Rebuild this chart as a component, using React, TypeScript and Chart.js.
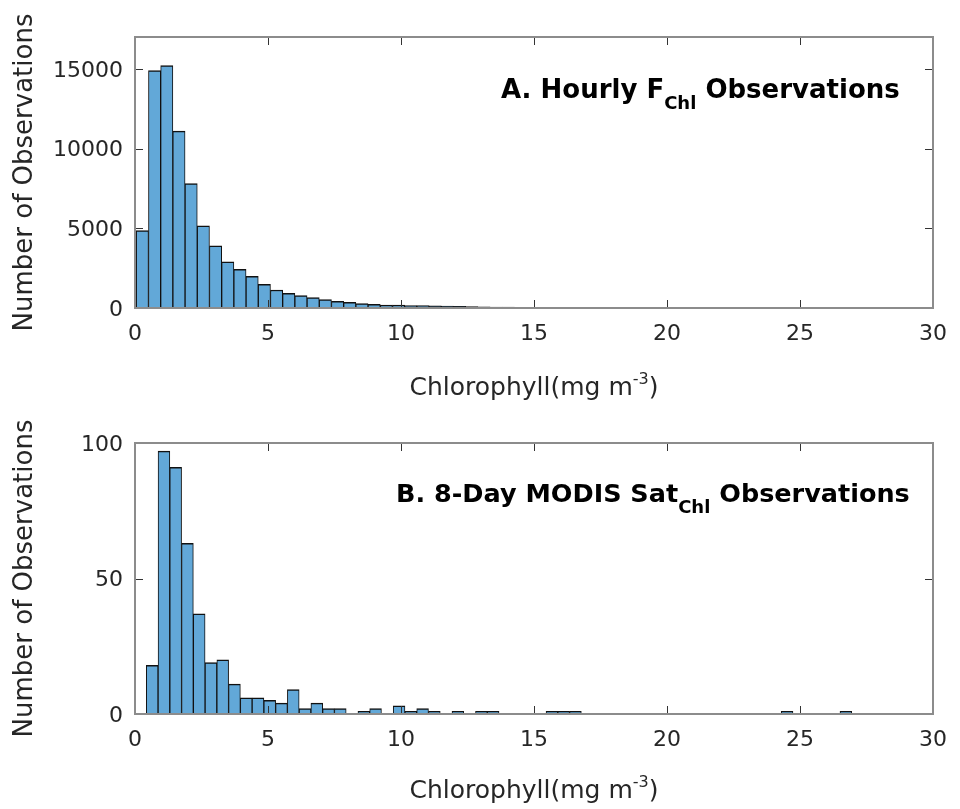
import React, { useEffect, useRef } from "react";
import { Chart, registerables } from "chart.js";

Chart.register(...registerables);

// ---------- data ----------
const X_TICKS = [0, 5, 10, 15, 20, 25, 30];

// Panel A: hourly fluorometer chlorophyll histogram
const A_Y_TICKS = [0, 5000, 10000, 15000];
const A_Y_MAX = 17000;
const A_BIN_START = 0.048;
const A_BIN_WIDTH = 0.4586;
const A_COUNTS = [
  4850, 14900, 15200, 11100, 7800, 5150, 3900, 2900, 2420, 1980,
  1480, 1130, 920, 775, 650, 525, 420, 355, 275, 230,
  190, 185, 150, 145, 130, 115, 100, 85, 75, 60,
  50, 42, 35, 30, 25, 20, 17, 14, 11, 8,
  5, 3, 0, 0, 0, 0, 0, 0, 0, 0,
  0, 0, 0, 0, 2, 0, 0, 0, 0, 0,
];

// Panel B: 8-day MODIS satellite chlorophyll histogram
const B_Y_TICKS = [0, 50, 100];
const B_Y_MAX = 100;
const B_BIN_START = 0.425;
const B_BIN_WIDTH = 0.442;
const B_COUNTS = [
  18, 97, 91, 63, 37, 19, 20, 11, 6, 6,
  5, 4, 9, 2, 4, 2, 2, 0, 1, 2,
  0, 3, 1, 2, 1, 0, 1, 0, 1, 1,
  0, 0, 0, 0, 1, 1, 1, 0, 0, 0,
  0, 0, 0, 0, 0, 0, 0, 0, 0, 0,
  0, 0, 0, 0, 1, 0, 0, 0, 0, 1,
];

const Y_LABEL = "Number of Observations";
const X_LABEL_MAIN = "Chlorophyll(mg m";
const X_LABEL_SUP = "-3";
const X_LABEL_END = ")";
const A_TITLE = ["A. Hourly F", "Chl", " Observations"];
const B_TITLE = ["B. 8-Day MODIS Sat", "Chl", " Observations"];

// ---------- styles ----------
const FONT = '"DejaVu Sans", "Liberation Sans", Arial, sans-serif';
const TEXT_COLOR = "#262626";
const BAR_FILL = "#62A8D8";
const BAR_EDGE = "#111111";
const BOX_COLOR = "#8c8c8c";
const TICK_COLOR = "#333333";

type PanelCfg = {
  counts: number[];
  binStart: number;
  binWidth: number;
  yTicks: number[];
  yMax: number;
  title: string[];
  titleX: number;
  titleBaseline: number;
  titleSize: number;
  xTitleBaseline: number;
  canvasHeight: number;
  plotTop: number;
  plotBottom: number;
};

function drawParts(
  ctx: CanvasRenderingContext2D,
  x: number,
  y: number,
  parts: { text: string; font: string; dy: number }[]
) {
  let cx = x;
  for (const p of parts) {
    ctx.font = p.font;
    ctx.fillText(p.text, cx, y + p.dy);
    cx += ctx.measureText(p.text).width;
  }
}

function measureParts(ctx: CanvasRenderingContext2D, parts: { text: string; font: string }[]) {
  let w = 0;
  for (const p of parts) {
    ctx.font = p.font;
    w += ctx.measureText(p.text).width;
  }
  return w;
}

function makeFramePlugin(cfg: PanelCfg) {
  return {
    id: "frame",
    afterDatasetsDraw(chart: any) {
      const { ctx, chartArea } = chart;
      const { left, right, top, bottom } = chartArea;
      const xs = chart.scales.x;
      const ys = chart.scales.y;
      ctx.save();
      ctx.strokeStyle = TICK_COLOR;
      ctx.lineWidth = 1;
      ctx.beginPath();
      for (const v of X_TICKS) {
        const px = Math.round(xs.getPixelForValue(v)) + 0.5;
        ctx.moveTo(px, bottom);
        ctx.lineTo(px, bottom - 8);
        ctx.moveTo(px, top);
        ctx.lineTo(px, top + 8);
      }
      for (const v of cfg.yTicks) {
        const py = Math.round(ys.getPixelForValue(v)) + 0.5;
        ctx.moveTo(left, py);
        ctx.lineTo(left + 8, py);
        ctx.moveTo(right, py);
        ctx.lineTo(right - 8, py);
      }
      ctx.stroke();
      ctx.strokeStyle = BOX_COLOR;
      ctx.lineWidth = 2;
      ctx.strokeRect(left, top, right - left, bottom - top);
      ctx.restore();
    },
    afterDraw(chart: any) {
      const { ctx, chartArea } = chart;
      ctx.save();
      ctx.fillStyle = TEXT_COLOR;
      ctx.textBaseline = "alphabetic";
      ctx.textAlign = "left";
      // x-axis label with superscript
      const xParts = [
        { text: X_LABEL_MAIN, font: `25px ${FONT}`, dy: 0 },
        { text: X_LABEL_SUP, font: `16px ${FONT}`, dy: -11 },
        { text: X_LABEL_END, font: `25px ${FONT}`, dy: 0 },
      ];
      const w = measureParts(ctx, xParts);
      const cx = (chartArea.left + chartArea.right) / 2;
      drawParts(ctx, cx - w / 2, cfg.xTitleBaseline, xParts);
      // panel title with subscript
      ctx.fillStyle = "#000000";
      const tParts = [
        { text: cfg.title[0], font: `bold ${cfg.titleSize}px ${FONT}`, dy: 0 },
        { text: cfg.title[1], font: `bold 18px ${FONT}`, dy: 11 },
        { text: cfg.title[2], font: `bold ${cfg.titleSize}px ${FONT}`, dy: 0 },
      ];
      drawParts(ctx, cfg.titleX, cfg.titleBaseline, tParts);
      ctx.restore();
    },
  };
}

function Panel({ cfg, top }: { cfg: PanelCfg; top: number }) {
  const ref = useRef<HTMLCanvasElement>(null);
  useEffect(() => {
    const counts = cfg.counts;
    const data = counts.map((c, i) => ({
      x: cfg.binStart + cfg.binWidth * (i + 0.5),
      y: c,
    }));
    const chart = new Chart(ref.current as HTMLCanvasElement, {
      type: "bar",
      data: {
        datasets: [
          {
            data: data as any,
            backgroundColor: BAR_FILL,
            borderColor: BAR_EDGE,
            borderWidth: { top: 1.5, left: 1, right: 1, bottom: 0 } as any,
            borderSkipped: "start",
            barPercentage: 1,
            categoryPercentage: 1,
          },
        ],
      },
      options: {
        animation: false,
        responsive: false,
        maintainAspectRatio: false,
        layout: { padding: { left: 0, right: 17, top: cfg.plotTop, bottom: 0 } },
        plugins: { legend: { display: false }, tooltip: { enabled: false }, title: { display: false } },
        scales: {
          x: {
            type: "linear",
            min: 0,
            max: 30,
            offset: false,
            grid: { display: false, drawTicks: false },
            border: { display: false },
            ticks: {
              font: { family: FONT, size: 22 },
              color: TEXT_COLOR,
              padding: 13,
              maxRotation: 0,
              autoSkip: false,
              callback: (v: any) => String(v),
            },
            afterBuildTicks: (s: any) => {
              s.ticks = X_TICKS.map((v) => ({ value: v }));
            },
            afterFit: (s: any) => {
              s.height = cfg.canvasHeight - cfg.plotBottom;
            },
          },
          y: {
            type: "linear",
            min: 0,
            max: cfg.yMax,
            grid: { display: false, drawTicks: false },
            border: { display: false },
            ticks: {
              font: { family: FONT, size: 22 },
              color: TEXT_COLOR,
              padding: 12,
              labelOffset: 2,
              autoSkip: false,
              callback: (v: any) => String(v),
            },
            afterBuildTicks: (s: any) => {
              s.ticks = cfg.yTicks.map((v) => ({ value: v }));
            },
            afterFit: (s: any) => {
              s.width = 135;
            },
            title: {
              display: true,
              text: Y_LABEL,
              font: { family: FONT, size: 26 },
              color: TEXT_COLOR,
              padding: { top: 10, bottom: 0 },
            },
          },
        },
      },
      plugins: [makeFramePlugin(cfg)],
    });
    return () => chart.destroy();
  }, [cfg]);
  return (
    <canvas
      ref={ref}
      width={960}
      height={cfg.canvasHeight}
      style={{ position: "absolute", left: 0, top, width: 960, height: cfg.canvasHeight }}
    />
  );
}

const PANEL_A: PanelCfg = {
  counts: A_COUNTS,
  binStart: A_BIN_START,
  binWidth: A_BIN_WIDTH,
  yTicks: A_Y_TICKS,
  yMax: A_Y_MAX,
  title: A_TITLE,
  titleX: 501,
  titleBaseline: 98,
  titleSize: 26,
  xTitleBaseline: 395,
  canvasHeight: 404,
  plotTop: 37,
  plotBottom: 308,
};

const PANEL_B: PanelCfg = {
  counts: B_COUNTS,
  binStart: B_BIN_START,
  binWidth: B_BIN_WIDTH,
  yTicks: B_Y_TICKS,
  yMax: B_Y_MAX,
  title: B_TITLE,
  titleX: 396,
  titleBaseline: 98,
  titleSize: 25.5,
  xTitleBaseline: 394,
  canvasHeight: 405,
  plotTop: 39,
  plotBottom: 310,
};

export default function App() {
  return (
    <div style={{ position: "absolute", left: 0, top: 0, width: 960, height: 809, background: "#ffffff" }}>
      <Panel cfg={PANEL_A} top={0} />
      <Panel cfg={PANEL_B} top={404} />
    </div>
  );
}
